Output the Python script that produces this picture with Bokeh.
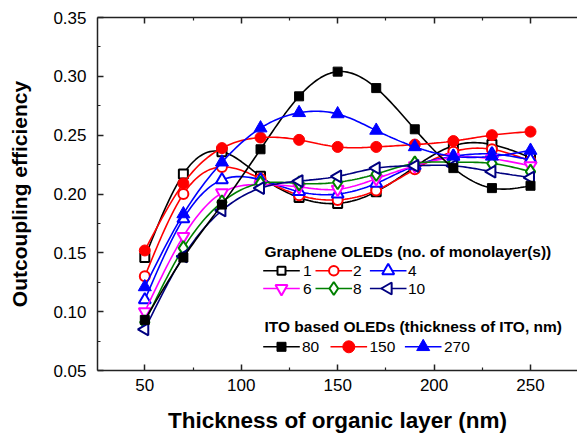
import numpy as np
from bokeh.plotting import figure
from bokeh.models import (LinearAxis, Range1d, FixedTicker, NumeralTickFormatter,
                          Label)
from bokeh.embed import file_html
from bokeh.resources import INLINE

# ---- data ----
thickness = [50, 70, 90, 110, 130, 150, 170, 190, 210, 230, 250]
g1 = [0.146, 0.217, 0.236, 0.215, 0.197, 0.192, 0.202, 0.223, 0.241, 0.242, 0.231]
g2 = [0.130, 0.200, 0.223, 0.213, 0.199, 0.195, 0.203, 0.221, 0.236, 0.238, 0.228]
g4 = [0.110, 0.179, 0.212, 0.212, 0.202, 0.200, 0.209, 0.224, 0.232, 0.234, 0.229]
g6 = [0.100, 0.164, 0.201, 0.208, 0.206, 0.204, 0.213, 0.224, 0.231, 0.230, 0.224]
g8 = [0.091, 0.154, 0.193, 0.209, 0.209, 0.210, 0.217, 0.226, 0.227, 0.226, 0.219]
g10 = [0.085, 0.147, 0.186, 0.205, 0.211, 0.215, 0.222, 0.224, 0.224, 0.219, 0.214]
ito80 = [0.093, 0.146, 0.191, 0.238, 0.283, 0.304, 0.290, 0.255, 0.222, 0.205, 0.207]
ito150 = [0.152, 0.209, 0.239, 0.248, 0.246, 0.240, 0.240, 0.242, 0.245, 0.250, 0.253]
ito270 = [0.121, 0.183, 0.227, 0.256, 0.269, 0.268, 0.254, 0.240, 0.232, 0.232, 0.237]

graphene_labels = ["1", "2", "4", "6", "8", "10"]
ito_labels = ["80", "150", "270"]
x_ticks = [50, 100, 150, 200, 250]
x_minor = [75, 125, 175, 225]
y_ticks = [0.05, 0.10, 0.15, 0.20, 0.25, 0.30, 0.35]
y_minor = [0.075, 0.125, 0.175, 0.225, 0.275, 0.325]

FONT = "Liberation Sans"
AX = "#222222"

# frame geometry (px)
W, H = 577, 438
BL, BR, BT, BB = 97, 0, 17, 68
FW, FH = W - BL - BR, H - BT - BB
X0, X1 = 25.47, 25.47 + FW / 1.9285
Y0, Y1 = 0.05, 0.35


def spline(xs, ys, n=16):
    """Natural cubic spline through the data points (line rendering only)."""
    x = np.asarray(xs, float)
    a = np.asarray(ys, float)
    m = len(x)
    h = np.diff(x)
    A = np.zeros((m, m))
    r = np.zeros(m)
    A[0, 0] = A[-1, -1] = 1.0
    for i in range(1, m - 1):
        A[i, i - 1] = h[i - 1]
        A[i, i] = 2 * (h[i - 1] + h[i])
        A[i, i + 1] = h[i]
        r[i] = 3 * ((a[i + 1] - a[i]) / h[i] - (a[i] - a[i - 1]) / h[i - 1])
    c = np.linalg.solve(A, r)
    b = (a[1:] - a[:-1]) / h - h * (2 * c[:-1] + c[1:]) / 3
    d = (c[1:] - c[:-1]) / (3 * h)
    xo, yo = [], []
    for i in range(m - 1):
        t = np.linspace(0, h[i], n, endpoint=(i == m - 2))
        xo.extend(x[i] + t)
        yo.extend(a[i] + b[i] * t + c[i] * t ** 2 + d[i] * t ** 3)
    return xo, yo


def px2x(sx):  # frame-relative px -> data x
    return X0 + sx * (X1 - X0) / FW


def px2y(sy):  # frame-relative px (from bottom) -> data y
    return Y0 + sy * (Y1 - Y0) / FH


p = figure(width=W, height=H, output_backend="svg", toolbar_location=None,
           x_range=Range1d(X0, X1), y_range=Range1d(Y0, Y1),
           min_border_left=BL, min_border_right=BR, min_border_top=BT,
           min_border_bottom=BB)
p.outline_line_color = None
p.xgrid.visible = False
p.ygrid.visible = False

# (values, colour, marker, size, filled, angle, legend key size)
graphene = [
    (g1, "black", "square", 9, 0, 8),
    (g2, "red", "circle", 10, 0, 9.5),
    (g4, "blue", "triangle", 12, 0, 12),
    (g6, "magenta", "inverted_triangle", 12, 0, 12),
    (g8, "green", "diamond", 14, 0, 13),
    (g10, "navy", "triangle", 12, np.pi / 2, 12),
]
ito = [
    (ito80, "black", "square", 9, 0, 9),
    (ito150, "red", "circle", 11, 0, 12),
    (ito270, "blue", "triangle", 13, 0, 13),
]


def draw(ys, col, marker, size, ang, filled):
    sx, sy = spline(thickness, ys)
    p.line(sx, sy, line_color=col, line_width=1.6)
    p.scatter(thickness, ys, marker=marker, size=size, angle=ang,
              line_color=col, line_width=1 if filled else 2,
              fill_color=col if filled else "white")


for ys, col, mk, sz, ang, _ in graphene:
    draw(ys, col, mk, sz, ang, False)
for ys, col, mk, sz, ang, _ in ito:
    draw(ys, col, mk, sz, ang, True)

# ---- axes ----
for ax in (p.xaxis[0], p.yaxis[0]):
    ax.axis_line_color = AX
    ax.axis_line_width = 1.5
    ax.major_tick_line_color = AX
    ax.minor_tick_line_color = AX
    ax.major_tick_line_width = 1.5
    ax.minor_tick_line_width = 1.2
    ax.major_tick_in = 6
    ax.major_tick_out = 0
    ax.minor_tick_in = 3
    ax.minor_tick_out = 0
    ax.major_label_text_font = FONT
    ax.major_label_text_font_size = "17px"
    ax.major_label_text_color = "black"
    ax.axis_label_text_font = FONT
    ax.axis_label_text_font_style = "bold"
    ax.axis_label_text_color = "black"

p.xaxis[0].ticker = FixedTicker(ticks=x_ticks, minor_ticks=x_minor)
p.yaxis[0].ticker = FixedTicker(ticks=y_ticks, minor_ticks=y_minor)
p.yaxis[0].formatter = NumeralTickFormatter(format="0.00")
p.xaxis[0].axis_label = "Thickness of organic layer (nm)"
p.yaxis[0].axis_label = "Outcoupling efficiency"
p.xaxis[0].axis_label_text_font_size = "22.5px"
p.yaxis[0].axis_label_text_font_size = "21px"
p.xaxis[0].major_label_standoff = 8
p.xaxis[0].axis_label_standoff = 14
p.yaxis[0].major_label_standoff = 11
p.yaxis[0].axis_label_standoff = 19

top = LinearAxis(ticker=FixedTicker(ticks=x_ticks, minor_ticks=x_minor),
                 major_label_overrides={t: "" for t in x_ticks},
                 major_label_standoff=0,
                 axis_line_color=AX, axis_line_width=1.5,
                 major_tick_line_color=AX, minor_tick_line_color=AX,
                 major_tick_line_width=1.5, minor_tick_line_width=1.2,
                 major_tick_in=6, major_tick_out=0, minor_tick_in=3, minor_tick_out=0)
p.add_layout(top, "above")

# ---- legend (drawn by hand to follow the reference layout) ----
TXT = dict(x_units="screen", y_units="screen", text_font=FONT,
           text_color="black", text_baseline="middle", text_align="left")
title_x = 264 - BL
p.add_layout(Label(x=title_x, y=370 - 251, text="Graphene OLEDs (no. of monolayer(s))",
                   text_font_size="15.5px", text_font_style="bold", **TXT))
p.add_layout(Label(x=title_x, y=370 - 326.3, text="ITO based OLEDs (thickness of ITO, nm)",
                   text_font_size="15.5px", text_font_style="bold", **TXT))

HALF = 18.3
g_marker_px = [281, 333.3, 387.7]
g_label_px = [302.5, 352.5, 407.5]
g_rows_px = [270.3, 288]
for k, (ys, col, mk, sz, ang, ksz) in enumerate(graphene):
    row, colm = divmod(k, 3)
    mx = g_marker_px[colm] - BL
    my = 370 - g_rows_px[row]
    p.line([px2x(mx - HALF), px2x(mx + HALF)], [px2y(my)] * 2,
           line_color=col, line_width=1.6)
    p.scatter([px2x(mx)], [px2y(my)], marker=mk, size=ksz, angle=ang,
              line_color=col, line_width=2, fill_color="white")
    p.add_layout(Label(x=g_label_px[colm] - BL, y=my, text=graphene_labels[k],
                       text_font_size="15.5px", **TXT))

i_marker_px = [281, 348.3, 422.7]
i_label_px = [301.5, 369, 443.5]
i_row_px = 346.3
for k, (ys, col, mk, sz, ang, ksz) in enumerate(ito):
    mx = i_marker_px[k] - BL
    my = 370 - i_row_px
    p.line([px2x(mx - HALF), px2x(mx + HALF)], [px2y(my)] * 2,
           line_color=col, line_width=1.6)
    p.scatter([px2x(mx)], [px2y(my)], marker=mk, size=ksz, angle=ang,
              line_color=col, line_width=1, fill_color=col)
    p.add_layout(Label(x=i_label_px[k] - BL, y=my, text=ito_labels[k],
                       text_font_size="15.5px", **TXT))

open("out.html", "w").write(file_html(p, INLINE))
